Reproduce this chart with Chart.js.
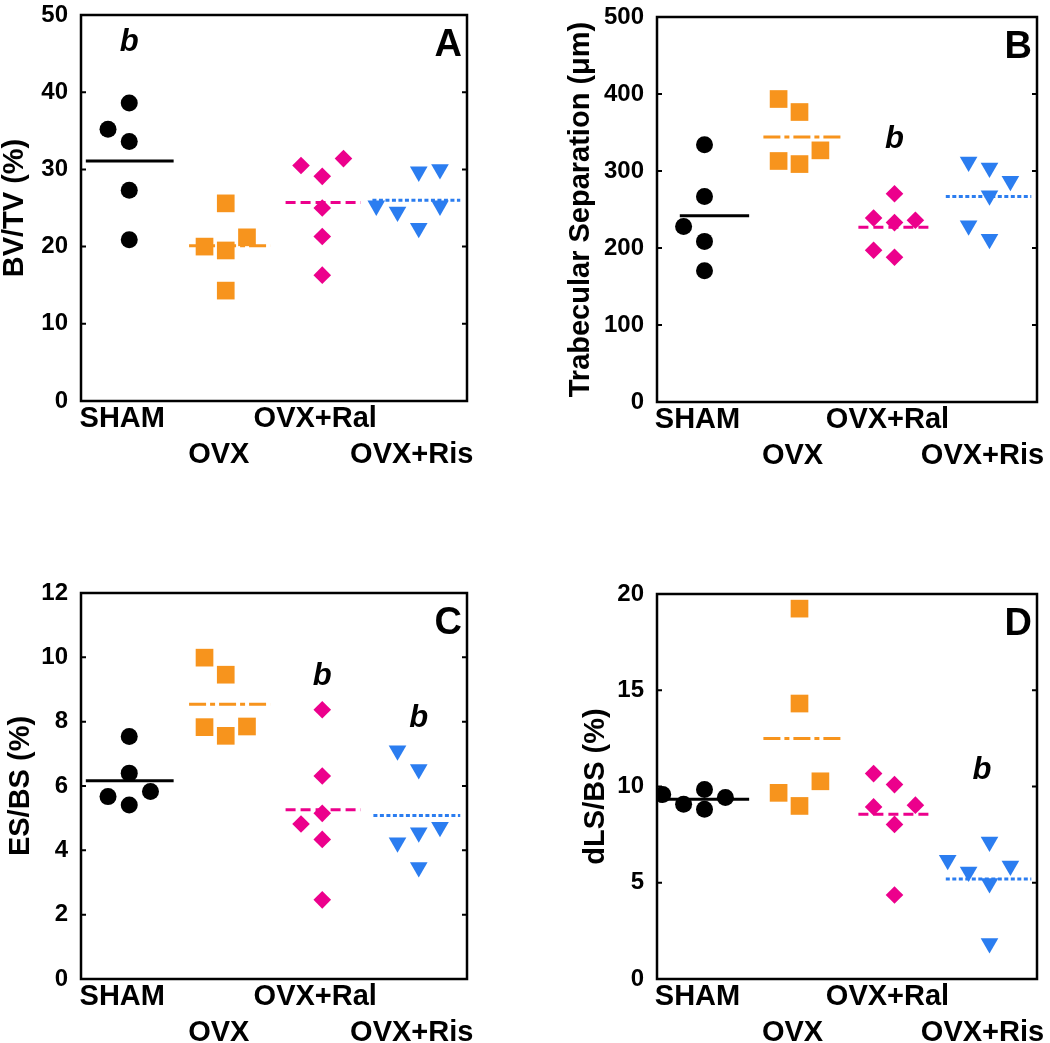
<!DOCTYPE html>
<html>
<head>
<meta charset="utf-8">
<script src="https://cdn.jsdelivr.net/npm/chart.js@4.4.1/dist/chart.umd.min.js"></script>
<style>
  body { margin: 0; background: #fff; }
  .panel { position: absolute; }
</style>
</head>
<body>
<div class="panel" style="left:0;top:0;width:525px;height:521px"><canvas id="chart-a"></canvas></div>
<div class="panel" style="left:525px;top:0;width:525px;height:521px"><canvas id="chart-b"></canvas></div>
<div class="panel" style="left:0;top:521px;width:525px;height:522px"><canvas id="chart-c"></canvas></div>
<div class="panel" style="left:525px;top:521px;width:525px;height:522px"><canvas id="chart-d"></canvas></div>
<script>
// ===================================
// DATA
// ===================================

const categories = ['SHAM', 'OVX', 'OVX+Ral', 'OVX+Ris'];
const slotStep = 0.22; // horizontal jitter step, in category units

// A - BV/TV (%)
const bvtvValues = [
    [35.2, 38.6, 33.6, 27.3, 20.9],
    [20.0, 25.6, 19.5, 14.3, 21.2],
    [30.5, 29.1, 25.0, 21.3, 16.3, 31.4],
    [25.3, 24.5, 29.7, 22.4, 30.0, 25.3]
];
const bvtvSlots = [[-1, 0, 0, 0, 0], [-1, 0, 0, 0, 1], [-1, 0, 0, 0, 0, 1], [-2, -1, 0, 0, 1, 1]];
const bvtvMeans = [31.1, 20.1, 25.7, 26.0];
const bvtvSignif = [[1, 46.5]];

// B - Trabecular Separation (um)
const tbspValues = [
    [228, 334, 267, 208.6, 170.5],
    [393.5, 313, 376.6, 309, 326.8],
    [239, 197, 270.5, 233, 188, 236],
    [312, 229, 304, 268, 211.7, 287]
];
const tbspSlots = [[-1, 0, 0, 0, 0], [-1, -1, 0, 0, 1], [-1, -1, 0, 0, 0, 1], [-1, -1, 0, 0, 0, 1]];
const tbspMeans = [242, 344, 227, 267];
const tbspSignif = [[3, 340.6]];

// C - ES/BS (%)
const esbsValues = [
    [5.67, 7.54, 6.40, 5.41, 5.83],
    [9.99, 7.83, 9.46, 7.56, 7.85],
    [4.82, 8.37, 6.31, 5.15, 4.34, 2.46],
    [7.10, 4.24, 6.52, 4.55, 3.47, 4.72]
];
const esbsSlots = [[-1, 0, 0, 0, 1], [-1, -1, 0, 0, 1], [-1, 0, 0, 0, 0, 0], [-1, -1, 0, 0, 0, 1]];
const esbsMeans = [6.16, 8.54, 5.26, 5.08];
const esbsSignif = [[3, 9.42], [4, 8.11]];

// D - dLS/BS (%)
const dlsbsValues = [
    [9.58, 9.08, 9.84, 8.82, 9.43],
    [9.67, 19.24, 14.31, 8.99, 10.27],
    [10.67, 8.94, 10.10, 8.03, 4.36, 9.03],
    [6.18, 5.57, 7.13, 4.97, 1.85, 5.88]
];
const dlsbsSlots = [[-2, -1, 0, 0, 1], [-1, 0, 0, 0, 1], [-1, -1, 0, 0, 0, 1], [-2, -1, 0, 0, 0, 1]];
const dlsbsMeans = [9.34, 12.49, 8.56, 5.19];
const dlsbsSignif = [[3.92, 10.85]];

// ===================================
// STYLES
// ===================================

const FONT = "'Liberation Sans', Arial, Helvetica, sans-serif";

const groupStyles = [
    { color: '#000000', pointStyle: 'circle',   radius: 8.5, rotation: 0,   dash: [] },
    { color: '#F7941D', pointStyle: 'rect',     radius: 12.5, rotation: 0,  dash: [17, 4, 5, 4] },
    { color: '#EC008C', pointStyle: 'rectRot',  radius: 8.8, rotation: 0,   dash: [10, 5] },
    { color: '#2B7DF0', pointStyle: 'triangle', radius: 10.2, rotation: 180, dash: [4, 2.5] }
];

// frame, inner ticks, panel letter and "b" marks
const panelDecor = {
    id: 'panelDecor',
    afterDraw(chart, args, opts) {
        const { ctx, chartArea: a, scales: { x, y } } = chart;
        ctx.save();
        ctx.strokeStyle = '#000';
        ctx.lineWidth = 2;
        y.ticks.forEach(t => {
            const py = y.getPixelForValue(t.value);
            ctx.beginPath();
            ctx.moveTo(a.left, py); ctx.lineTo(a.left + 5, py);
            ctx.moveTo(a.right - 5, py); ctx.lineTo(a.right, py);
            ctx.stroke();
        });
        ctx.lineWidth = 2.5;
        ctx.strokeRect(a.left, a.top, a.right - a.left, a.bottom - a.top);

        ctx.fillStyle = '#000';
        ctx.font = `bold 38px ${FONT}`;
        ctx.textAlign = 'right';
        ctx.textBaseline = 'middle';
        ctx.fillText(opts.letter, a.right - 5, a.top + 31);

        ctx.font = `italic bold 31px ${FONT}`;
        ctx.textAlign = 'center';
        opts.marks.forEach(([mx, my]) => {
            ctx.fillText('b', x.getPixelForValue(mx), y.getPixelForValue(my));
        });
        ctx.restore();
    }
};

function makePanel(id, p) {
    const datasets = [];
    categories.forEach((name, g) => {
        const st = groupStyles[g];
        datasets.push({
            label: name,
            data: p.values[g].map((v, i) => ({ x: g + 1 + p.slots[g][i] * slotStep, y: v })),
            backgroundColor: st.color,
            borderWidth: 0,
            pointStyle: st.pointStyle,
            pointRadius: st.radius,
            pointHoverRadius: st.radius,
            pointRotation: st.rotation,
            pointBorderWidth: 0,
            showLine: false,
            order: 0
        });
        datasets.push({
            label: name + ' mean',
            data: [
                { x: g + 1 + p.spans[g][0], y: p.means[g] },
                { x: g + 1 + p.spans[g][1], y: p.means[g] }
            ],
            borderColor: st.color,
            borderWidth: 3,
            borderDash: st.dash,
            showLine: true,
            pointRadius: 0,
            order: 1
        });
    });

    return new Chart(document.getElementById(id), {
        type: 'scatter',
        data: { datasets },
        plugins: [panelDecor],
        options: {
            responsive: true,
            maintainAspectRatio: false,
            animation: false,
            events: [],
            layout: { autoPadding: false, padding: { left: 0, top: p.padTop, right: p.padRight, bottom: 0 } },
            plugins: {
                legend: { display: false },
                tooltip: { enabled: false },
                panelDecor: { letter: p.letter, marks: p.marks }
            },
            scales: {
                x: {
                    type: 'linear',
                    min: 0.5,
                    max: 4.5,
                    grid: { display: false, drawTicks: false },
                    border: { display: false },
                    afterBuildTicks(s) { s.ticks = categories.map((c, i) => ({ value: i + 1 })); },
                    afterFit(s) { s.height = p.xAxisHeight; s.paddingLeft = 0; s.paddingRight = 0; },
                    ticks: {
                        autoSkip: false,
                        maxRotation: 0,
                        padding: 0,
                        labelOffset: -7,
                        color: '#000',
                        font: { family: FONT, size: 29, weight: 'bold', lineHeight: 1.24 },
                        callback(value, index) {
                            return index % 2 === 0 ? [categories[index]] : ['', categories[index]];
                        }
                    }
                },
                y: {
                    min: 0,
                    max: p.yMax,
                    grid: { display: false, drawTicks: false },
                    border: { display: false },
                    afterFit(s) { s.width = p.axisWidth; s.paddingTop = 0; s.paddingBottom = 0; },
                    ticks: {
                        stepSize: p.yStep,
                        padding: 13,
                        color: '#000',
                        font: { family: FONT, size: 24, weight: 'bold' }
                    },
                    title: {
                        display: true,
                        text: p.yTitle,
                        color: '#000',
                        padding: { top: p.titlePad, bottom: 0 },
                        font: { family: FONT, size: 29, weight: 'bold', lineHeight: 1 }
                    }
                }
            }
        }
    });
}

// ===================================
// PANELS
// ===================================

makePanel('chart-a', {
    values: bvtvValues, slots: bvtvSlots, means: bvtvMeans, marks: bvtvSignif,
    spans: [[-0.45, 0.46], [-0.38, 0.46], [-0.38, 0.40], [-0.48, 0.43]],
    yMax: 50, yStep: 10, yTitle: 'BV/TV (%)', letter: 'A',
    axisWidth: 81, titlePad: 0, padTop: 15, padRight: 58, xAxisHeight: 120
});

makePanel('chart-b', {
    values: tbspValues, slots: tbspSlots, means: tbspMeans, marks: tbspSignif,
    spans: [[-0.26, 0.47], [-0.38, 0.46], [-0.38, 0.40], [-0.46, 0.44]],
    yMax: 500, yStep: 100, yTitle: 'Trabecular Separation (\u03bcm)', letter: 'B',
    axisWidth: 132, titlePad: 41, padTop: 17, padRight: 13, xAxisHeight: 119
});

makePanel('chart-c', {
    values: esbsValues, slots: esbsSlots, means: esbsMeans, marks: esbsSignif,
    spans: [[-0.45, 0.46], [-0.38, 0.46], [-0.38, 0.40], [-0.47, 0.43]],
    yMax: 12, yStep: 2, yTitle: 'ES/BS (%)', letter: 'C',
    axisWidth: 81, titlePad: 6, padTop: 72, padRight: 58, xAxisHeight: 64
});

makePanel('chart-d', {
    values: dlsbsValues, slots: dlsbsSlots, means: dlsbsMeans, marks: dlsbsSignif,
    spans: [[-0.47, 0.47], [-0.38, 0.46], [-0.38, 0.40], [-0.46, 0.44]],
    yMax: 20, yStep: 5, yTitle: 'dLS/BS (%)', letter: 'D',
    axisWidth: 132, titlePad: 56, padTop: 73, padRight: 13, xAxisHeight: 64
});
</script>
</body>
</html>
